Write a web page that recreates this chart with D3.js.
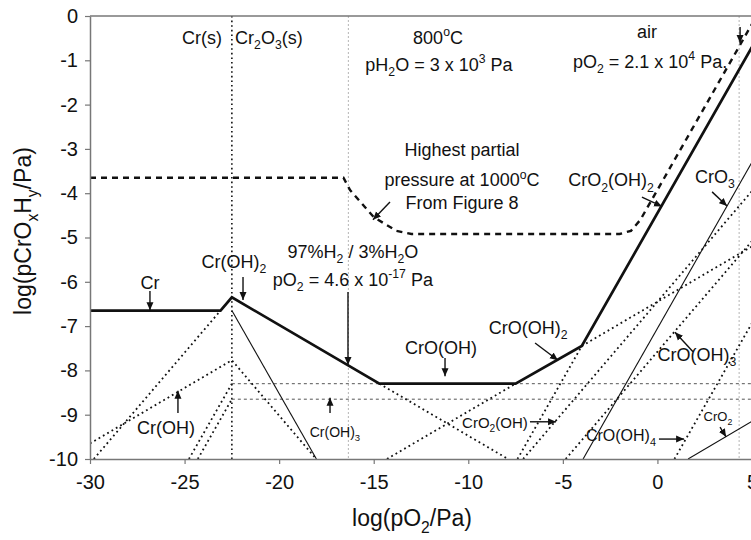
<!DOCTYPE html>
<html lang="en">
<head>
<meta charset="UTF-8">
<title>CrOxHy partial pressures</title>
<script src="https://cdn.jsdelivr.net/npm/d3@7"></script>
<style>
  body { margin: 0; background: #fff; }
  text { font-family: "Liberation Sans", Arial, Helvetica, sans-serif; fill: #111; }
</style>
</head>
<body>
<script>
    // axis ticks
    let xTicks = [-30, -25, -20, -15, -10, -5, 0, 5]
    let yTicks = [0, -1, -2, -3, -4, -5, -6, -7, -8, -9, -10]

    // total (thick) curve, log pO2 vs log p
    let totalLine = [[-30, -6.65], [-23.1, -6.65], [-22.5, -6.35], [-14.7, -8.3], [-7.5, -8.3], [-4, -7.45], [5, -0.7]]

    // thin solid species lines
    let crLine = [[-22.5, -6.65], [-18.03, -10]]
    let cro3Line = [[-3.93, -10], [5, -3.3]]
    let cro2Line = [[1.62, -10], [5, -9.15]]

    // dotted species lines
    let crOHLine = [[-30, -9.65], [-22.5, -7.77], [-18.04, -10]]
    let crOH2LeftLine = [[-29.8, -10], [-23.1, -6.65]]
    let crOH2RightLine = [[-14.7, -8.3], [-7.9, -10]]
    let crOOHLeftLine = [[-24.77, -10], [-22.5, -8.3]]
    let crOH3LeftLine = [[-24.3, -10], [-22.5, -8.65]]
    let crOOH2LowLine = [[-14.3, -10], [-7.5, -8.3]]
    let crOOH2HighLine = [[-4, -7.45], [5, -5.2]]
    let cro2OH2Line = [[-7.4, -10], [-4, -7.45]]
    let cro2OHLine = [[-7.1, -10], [5, -3.95]]
    let croOH3Line = [[-4.85, -10], [5, -5.08]]
    let croOH4Line = [[0.9, -10], [5, -6.93]]

    // flat lines over Cr2O3: CrO(OH) and Cr(OH)3
    let crOOHFlat = [[-22.5, -8.3], [5, -8.3]]
    let crOH3Flat = [[-22.5, -8.65], [5, -8.65]]

    // highest partial pressure at 1000C (Figure 8)
    let highestLine = [[-30, -3.65], [-16.6, -3.65], [-16.25, -3.93], [-15.0, -4.54], [-13.8, -4.85], [-13.0, -4.92],
        [-2.0, -4.92], [-1.4, -4.85], [-0.9, -4.6], [5, -0.18]]

    // vertical markers (log pO2)
    let crBoundary = -22.5
    let gasMarks = [-16.34, 4.32]

    let W = 751, H = 540
    let svg = d3.select('body').append('svg')
        .attr('width', W).attr('height', H)

    let x = d3.scaleLinear().domain([-30, 5]).range([90, 752])
    let y = d3.scaleLinear().domain([-10, 0]).range([459, 16])

    svg.append('defs').append('clipPath').attr('id', 'plot')
        .append('rect').attr('x', x(-30)).attr('y', y(0)).attr('width', x(5) - x(-30)).attr('height', y(-10) - y(0))

    svg.select('defs').append('marker')
        .attr('id', 'arrow').attr('markerUnits', 'userSpaceOnUse')
        .attr('markerWidth', 9).attr('markerHeight', 8).attr('refX', 8).attr('refY', 4)
        .attr('orient', 'auto')
        .append('path').attr('d', 'M0,0.5 L8,4 L0,7.5 Z').attr('fill', '#111')

    let line = d3.line().x(function (d) { return x(d[0]) }).y(function (d) { return y(d[1]) })
    let plot = svg.append('g').attr('clip-path', 'url(#plot)')

    // light gray verticals
    plot.selectAll('.gas').data(gasMarks).enter().append('line')
        .attr('x1', function (d) { return x(d) }).attr('x2', function (d) { return x(d) })
        .attr('y1', y(0)).attr('y2', y(-10))
        .attr('stroke', '#b5b5b5').attr('stroke-width', 1).attr('stroke-dasharray', '2,2')

    // Cr / Cr2O3 boundary
    plot.append('line')
        .attr('x1', x(crBoundary)).attr('x2', x(crBoundary)).attr('y1', y(0)).attr('y2', y(-10))
        .attr('stroke', '#111').attr('stroke-width', 1.6).attr('stroke-dasharray', '1.6,3')

    // flat gray dashed lines
    plot.selectAll('.flat').data([crOOHFlat, crOH3Flat]).enter().append('path')
        .attr('d', line).attr('fill', 'none')
        .attr('stroke', '#555').attr('stroke-width', 1).attr('stroke-dasharray', '3,3')

    let dotted = [crOHLine, crOH2LeftLine, crOH2RightLine, crOOHLeftLine, crOH3LeftLine, crOOH2LowLine,
        crOOH2HighLine, cro2OH2Line, cro2OHLine, croOH3Line, croOH4Line]
    plot.selectAll('.dot').data(dotted).enter().append('path')
        .attr('d', line).attr('fill', 'none')
        .attr('stroke', '#111').attr('stroke-width', 1.8).attr('stroke-dasharray', '1.8,3.2')

    plot.selectAll('.thin').data([crLine, cro3Line, cro2Line]).enter().append('path')
        .attr('d', line).attr('fill', 'none')
        .attr('stroke', '#111').attr('stroke-width', 1.1)

    plot.append('path').datum(highestLine)
        .attr('d', line).attr('fill', 'none')
        .attr('stroke', '#111').attr('stroke-width', 2.4).attr('stroke-dasharray', '6,5')

    plot.append('path').datum(totalLine)
        .attr('d', line).attr('fill', 'none')
        .attr('stroke', '#111').attr('stroke-width', 2.7).attr('stroke-linejoin', 'miter')

    // axes
    let axisColor = '#777'
    let xAxis = svg.append('g').attr('transform', 'translate(0,' + y(-10) + ')')
        .call(d3.axisBottom(x).tickValues(xTicks).tickSize(5).tickSizeOuter(0).tickPadding(11)
            .tickFormat(function (d) { return String(d) }))
    let yAxis = svg.append('g').attr('transform', 'translate(' + x(-30) + ',0)')
        .call(d3.axisLeft(y).tickValues(yTicks).tickSize(5).tickSizeOuter(0).tickPadding(7)
            .tickFormat(function (d) { return String(d) }))
    svg.selectAll('.domain').attr('stroke', axisColor).attr('stroke-width', 1.5)
    svg.selectAll('.tick line').attr('stroke', axisColor).attr('stroke-width', 1.2)
    svg.selectAll('.tick text').attr('font-size', 20).attr('font-family', '"Liberation Sans", Arial, sans-serif').attr('fill', '#111')
    // top frame
    svg.append('line').attr('x1', x(-30)).attr('x2', W).attr('y1', y(0)).attr('y2', y(0))
        .attr('stroke', axisColor).attr('stroke-width', 1.5)

    // text with _{sub} and ^{sup}
    function richText(str, px, py, size, anchor, parent) {
        let t = (parent || svg).append('text').attr('x', px).attr('y', py)
            .attr('font-size', size).attr('text-anchor', anchor || 'middle')
        let re = /([_^])\{([^}]*)\}|([^_^]+)/g, m, cur = 0
        while ((m = re.exec(str)) !== null) {
            let target = 0, txt = m[3], fs = null
            if (!m[3]) {
                target = m[1] === '_' ? size * 0.3 : -size * 0.42
                txt = m[2]; fs = size * 0.68
            }
            let sp = t.append('tspan').text(txt)
            if (fs) sp.attr('font-size', fs)
            if (target !== cur) sp.attr('dy', target - cur)
            cur = target
        }
        return t
    }

    let labels = [
        ['Cr(s)', -23.02, -0.63, 18, 'end'],
        ['Cr_{2}O_{3}(s)', -22.33, -0.63, 18, 'start'],
        ['800^{o}C', -11.6, -0.63, 18, 'middle'],
        ['pH_{2}O = 3 x 10^{3} Pa', -11.55, -1.24, 18, 'middle'],
        ['air', -0.55, -0.5, 18, 'middle'],
        ['pO_{2} = 2.1 x 10^{4} Pa.', -0.39, -1.17, 18, 'middle'],
        ['Highest partial', -10.33, -3.16, 18, 'middle'],
        ['pressure at 1000^{o}C', -10.33, -3.84, 18, 'middle'],
        ['From Figure 8', -10.33, -4.36, 18, 'middle'],
        ['Cr', -26.83, -6.16, 18, 'middle'],
        ['Cr(OH)_{2}', -22.39, -5.69, 18, 'middle'],
        ['97%H_{2} / 3%H_{2}O', -16.1, -5.46, 18, 'middle'],
        ['pO_{2} = 4.6 x 10^{-17} Pa', -16.1, -6.09, 18, 'middle'],
        ['CrO(OH)', -11.44, -7.63, 18, 'middle'],
        ['CrO(OH)_{2}', -6.84, -7.18, 18, 'middle'],
        ['CrO_{2}(OH)_{2}', -2.45, -3.84, 18, 'middle'],
        ['CrO_{3}', 3.04, -3.77, 18, 'middle'],
        ['CrO(OH)_{3}', 2.09, -7.79, 18, 'middle'],
        ['Cr(OH)', -25.98, -9.44, 18, 'middle'],
        ['Cr(OH)_{3}', -17.05, -9.5, 14, 'middle'],
        ['CrO_{2}(OH)', -8.59, -9.3, 15, 'middle'],
        ['CrO(OH)_{4}', -1.93, -9.59, 16, 'middle'],
        ['CrO_{2}', 3.2, -9.14, 13, 'middle']
    ]
    labels.forEach(function (d) { richText(d[0], x(d[1]), y(d[2]), d[3], d[4]) })

    let arrows = [
        [-26.83, -6.21, -26.83, -6.64],
        [-21.91, -5.89, -21.91, -6.41],
        [-16.36, -6.23, -16.36, -7.88],
        [-11.23, -7.72, -11.23, -8.13],
        [-6.47, -7.38, -5.26, -7.77],
        [-0.82, -4.09, 0.24, -4.3],
        [2.89, -3.97, 3.68, -4.29],
        [1.88, -7.58, 0.93, -7.14],
        [-25.35, -8.96, -25.35, -8.46],
        [-17.31, -8.96, -17.31, -8.62],
        [-6.74, -9.16, -5.36, -9.16],
        [0.08, -9.55, 1.41, -9.55],
        [3.31, -9.28, 3.63, -9.5],
        [-14.14, -4.2, -15.04, -4.6],
        [4.37, -0.25, 4.37, -0.61]
    ]
    svg.selectAll('.arrow').data(arrows).enter().append('line')
        .attr('x1', function (d) { return x(d[0]) }).attr('y1', function (d) { return y(d[1]) })
        .attr('x2', function (d) { return x(d[2]) }).attr('y2', function (d) { return y(d[3]) })
        .attr('stroke', '#111').attr('stroke-width', 1.4).attr('marker-end', 'url(#arrow)')

    // axis titles
    richText('log(pO_{2}/Pa)', 412, 526, 23, 'middle')
    let yt = svg.append('g').attr('transform', 'translate(31,231) rotate(-90)')
    richText('log(pCrO_{x}H_{y}/Pa)', 0, 0, 23, 'middle', yt)
</script>
</body>
</html>
